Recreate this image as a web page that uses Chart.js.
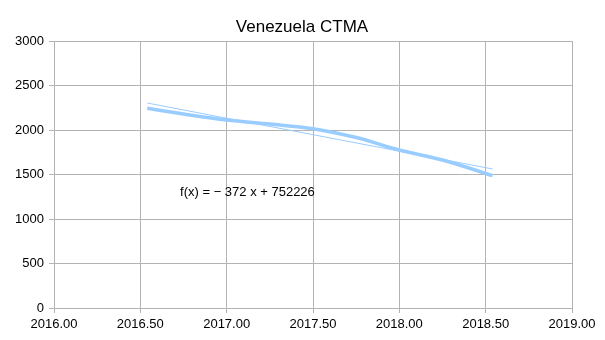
<!DOCTYPE html>
<html>
<head>
<meta charset="utf-8">
<script src="https://cdn.jsdelivr.net/npm/chart.js@4/dist/chart.umd.min.js"></script>
<style>
  html, body { margin: 0; padding: 0; background: #fff; }
  #wrap { width: 605px; height: 340px; }
</style>
</head>
<body>
<div id="wrap"><canvas id="chart-canvas"></canvas></div>
<script>
const chartTitle = 'Venezuela CTMA';
const years = [2016.54, 2016.75, 2017.0, 2017.25, 2017.5, 2017.75, 2018.0, 2018.25, 2018.54];
const production = [2244, 2180, 2112, 2067, 2015, 1915, 1775, 1663, 1487];
const trendYears = [2016.54, 2018.54];
const trendValues = [2303, 1562];
const trendLabel = 'f(x) = \u2212 372 x + 752226';
const trendLabelAt = { x: 2016.73, y: 1300 };

const lineColor = '#99ccff';
const gridColor = '#b3b3b3';

const titleAndNote = {
  id: 'titleAndNote',
  afterDraw(chart) {
    const ctx = chart.ctx;
    ctx.save();
    ctx.fillStyle = '#000';
    ctx.font = '17px "Liberation Sans", Arial, sans-serif';
    ctx.textAlign = 'center';
    ctx.textBaseline = 'middle';
    ctx.fillText(chartTitle, 302, 27);
    ctx.font = '13px "Liberation Sans", Arial, sans-serif';
    ctx.textAlign = 'left';
    const px = chart.scales.x.getPixelForValue(trendLabelAt.x);
    const py = chart.scales.y.getPixelForValue(trendLabelAt.y);
    ctx.fillText(trendLabel, px, py);
    ctx.restore();
  }
};

new Chart(document.getElementById('chart-canvas'), {
  type: 'line',
  data: {
    datasets: [
      {
        label: 'CTMA',
        data: years.map((x, i) => ({ x: x, y: production[i] })),
        borderColor: lineColor,
        borderWidth: 3.5,
        pointRadius: 0,
        cubicInterpolationMode: 'monotone',
      },
      {
        label: 'Trend',
        data: trendYears.map((x, i) => ({ x: x, y: trendValues[i] })),
        borderColor: lineColor,
        borderWidth: 1,
        pointRadius: 0,
      },
    ],
  },
  options: {
    responsive: true,
    maintainAspectRatio: false,
    animation: false,
    layout: { padding: { top: 41, right: 33, left: 0, bottom: 0 } },
    plugins: {
      legend: { display: false },
      title: { display: false },
      tooltip: { enabled: false },
    },
    scales: {
      x: {
        type: 'linear',
        min: 2016,
        max: 2019,
        border: { color: gridColor },
        grid: { color: gridColor, tickLength: 5, tickColor: gridColor },
        ticks: {
          stepSize: 0.5,
          padding: 4,
          color: '#000',
          maxRotation: 0,
          font: { family: '"Liberation Sans", Arial, sans-serif', size: 13 },
          callback: v => v.toFixed(2),
        },
        afterFit(scale) { scale.height = 32; },
      },
      y: {
        min: 0,
        max: 3000,
        border: { color: gridColor },
        grid: { color: gridColor, tickLength: 5, tickColor: gridColor },
        ticks: {
          stepSize: 500,
          padding: 5,
          color: '#000',
          font: { family: '"Liberation Sans", Arial, sans-serif', size: 13 },
          callback: v => String(v),
        },
        afterFit(scale) { scale.width = 54; },
      },
    },
  },
  plugins: [titleAndNote],
});
</script>
</body>
</html>
